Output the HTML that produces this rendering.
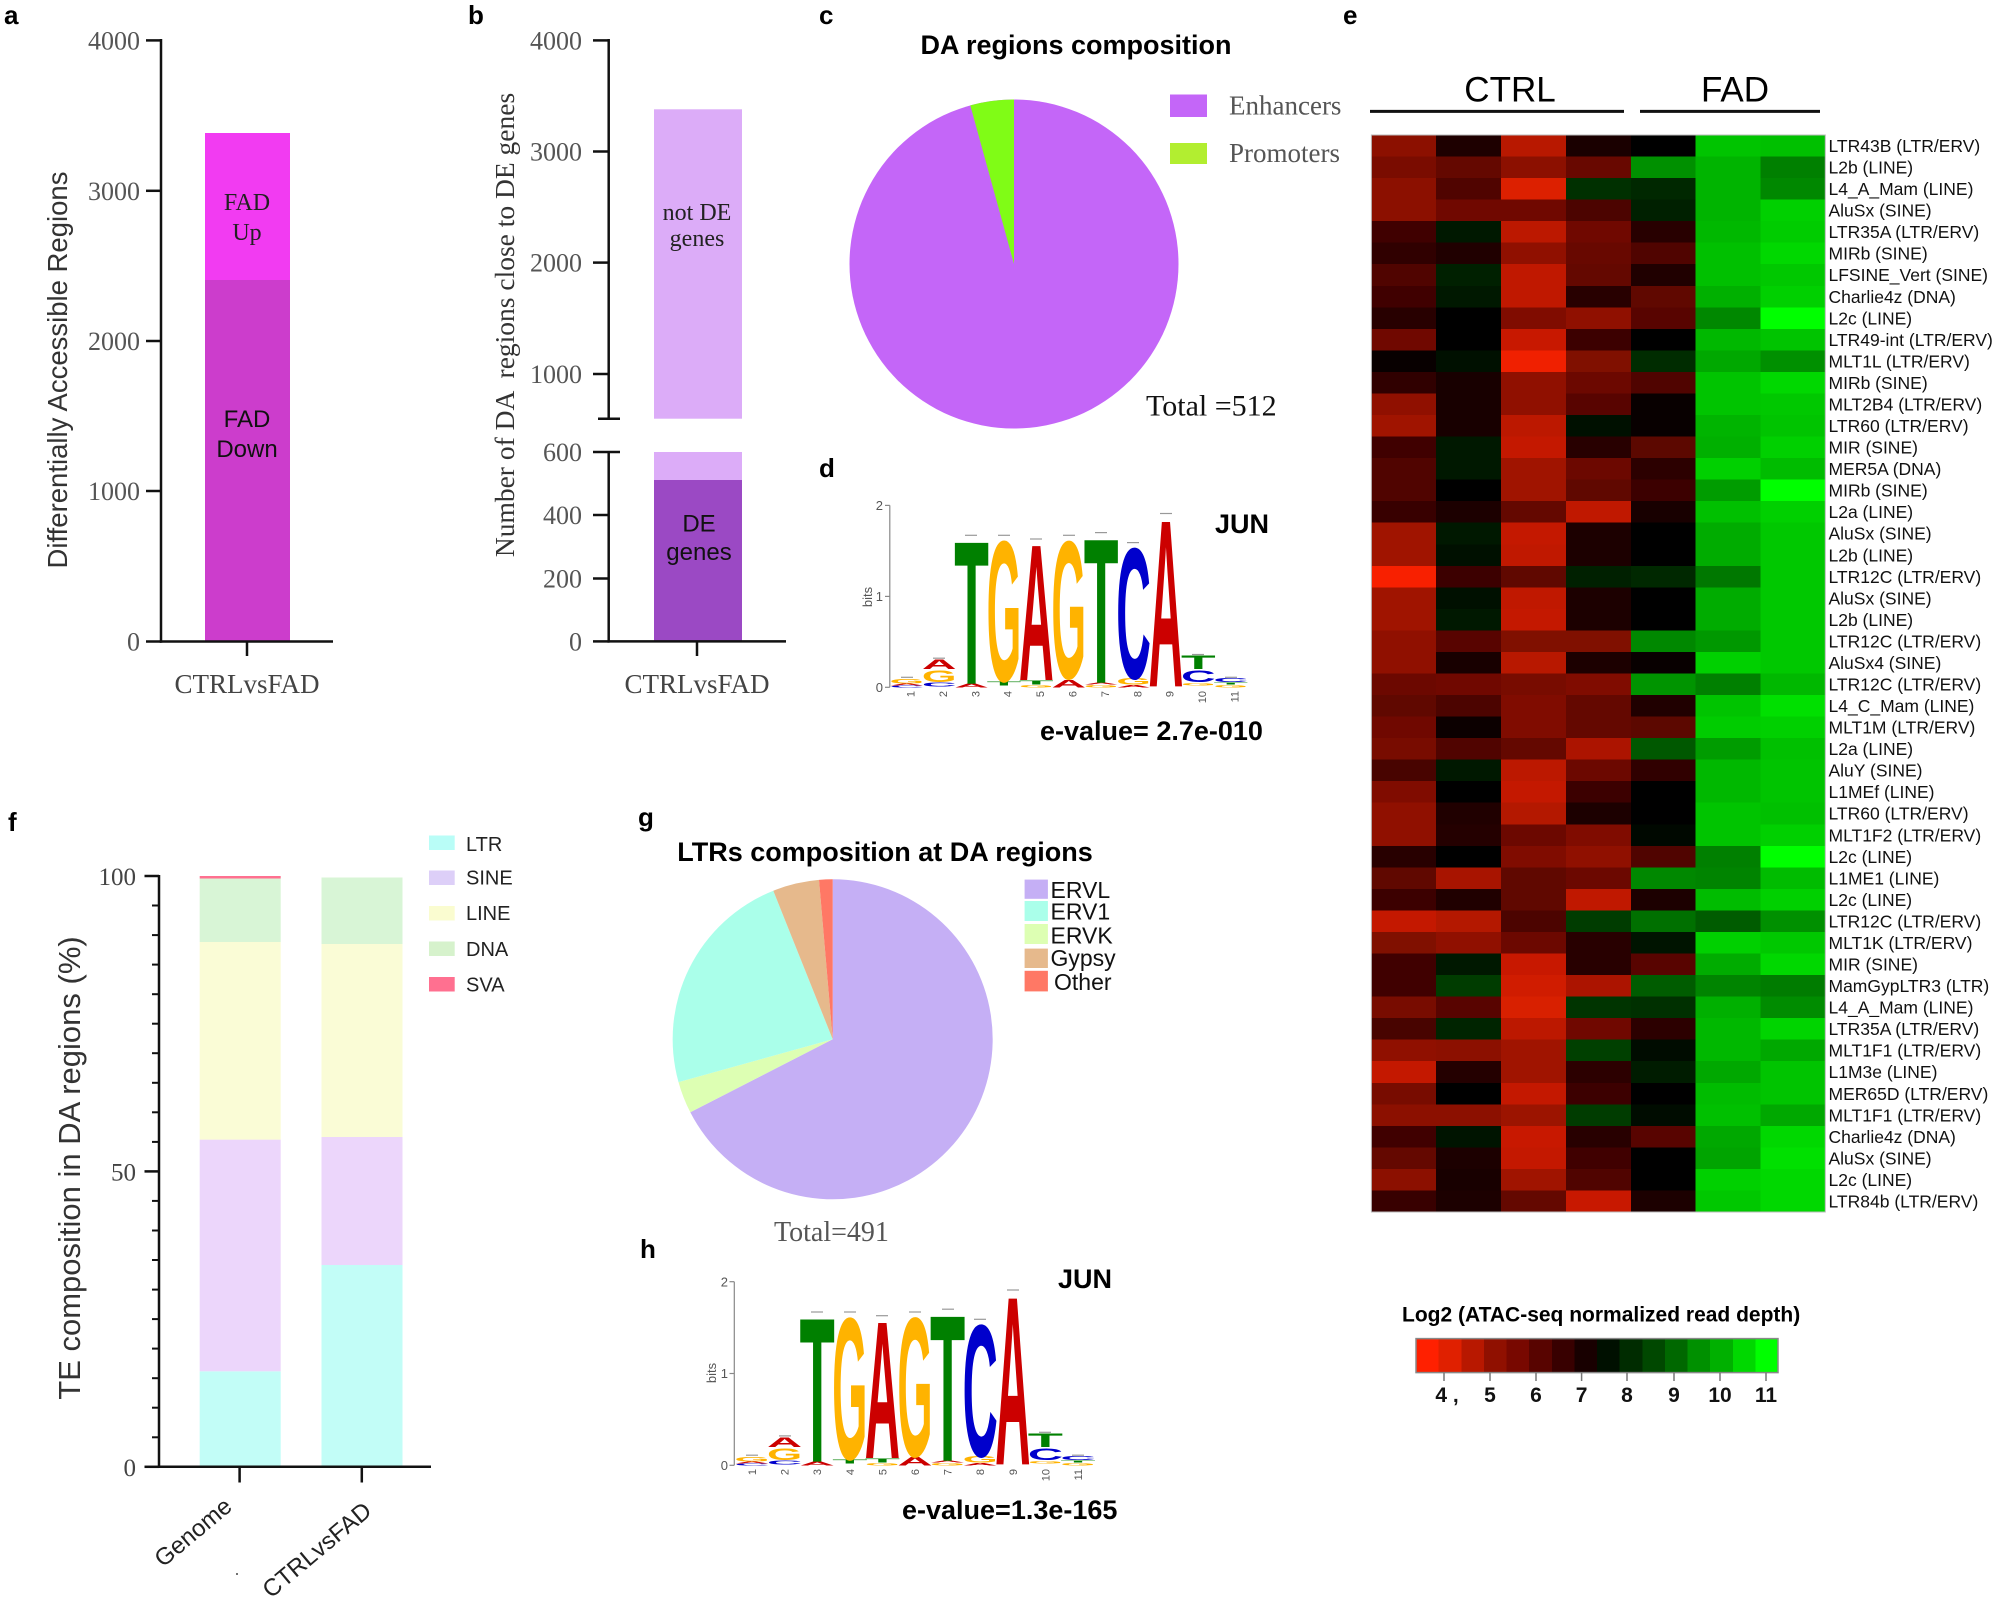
<!DOCTYPE html>
<html><head><meta charset="utf-8"><style>
html,body{margin:0;padding:0;background:#fff;}
svg{display:block;}
.s{font-family:"Liberation Sans",Arial,sans-serif;}
.r{font-family:"Liberation Serif","Times New Roman",serif;}
.b{font-family:"Liberation Sans",Arial,sans-serif;font-weight:bold;}
</style></head><body>
<svg width="2000" height="1602" viewBox="0 0 2000 1602" xmlns="http://www.w3.org/2000/svg">
<rect width="2000" height="1602" fill="#fff"/>

<!-- ===== Panel a ===== -->
<text class="b" x="4" y="24" font-size="26">a</text>
<rect x="205" y="133" width="85" height="148" fill="#f23bf2"/>
<rect x="205" y="280" width="85" height="361.5" fill="#cc3dcc"/>
<g stroke="#111" stroke-width="2.5" fill="none">
<line x1="161" y1="39" x2="161" y2="642.7"/>
<line x1="159.8" y1="641.5" x2="333" y2="641.5"/>
<line x1="146" y1="40.4" x2="161" y2="40.4"/>
<line x1="146" y1="190.8" x2="161" y2="190.8"/>
<line x1="146" y1="341" x2="161" y2="341"/>
<line x1="146" y1="491" x2="161" y2="491"/>
<line x1="146" y1="641.5" x2="161" y2="641.5"/>
<line x1="247" y1="641.5" x2="247" y2="656"/>
</g>
<g class="r" font-size="26" fill="#555" text-anchor="end">
<text x="140" y="49.5">4000</text><text x="140" y="200">3000</text><text x="140" y="350">2000</text><text x="140" y="500">1000</text><text x="140" y="650.5">0</text>
</g>
<text class="r" x="247" y="210" font-size="24" fill="#222" text-anchor="middle">FAD</text>
<text class="r" x="247" y="240" font-size="24" fill="#222" text-anchor="middle">Up</text>
<text class="s" x="247" y="427" font-size="24" fill="#111" text-anchor="middle">FAD</text>
<text class="s" x="247" y="457" font-size="24" fill="#111" text-anchor="middle">Down</text>
<text class="s" font-size="27.5" fill="#333" text-anchor="middle" transform="translate(67,370) rotate(-90)">Differentially Accessible Regions</text>
<text class="r" x="247" y="693" font-size="27" fill="#444" text-anchor="middle">CTRLvsFAD</text>

<!-- ===== Panel b ===== -->
<text class="b" x="468" y="24" font-size="26">b</text>
<rect x="654" y="109.3" width="88" height="309.4" fill="#dcacf8"/>
<rect x="654" y="452" width="88" height="28" fill="#dcacf8"/>
<rect x="654" y="480" width="88" height="161.4" fill="#9b49c4"/>
<g stroke="#111" stroke-width="2.5" fill="none">
<line x1="608.7" y1="39" x2="608.7" y2="418.7"/>
<line x1="608.7" y1="452" x2="608.7" y2="642.6"/>
<line x1="607.5" y1="641.4" x2="786" y2="641.4"/>
<line x1="593" y1="40.4" x2="608.7" y2="40.4"/>
<line x1="593" y1="151.5" x2="608.7" y2="151.5"/>
<line x1="593" y1="262.6" x2="608.7" y2="262.6"/>
<line x1="593" y1="374" x2="608.7" y2="374"/>
<line x1="598" y1="418.7" x2="620" y2="418.7"/>
<line x1="593" y1="452" x2="620" y2="452"/>
<line x1="593" y1="515" x2="608.7" y2="515"/>
<line x1="593" y1="578.5" x2="608.7" y2="578.5"/>
<line x1="593" y1="641.4" x2="608.7" y2="641.4"/>
<line x1="697" y1="641.4" x2="697" y2="656"/>
</g>
<g class="r" font-size="26" fill="#555" text-anchor="end">
<text x="582" y="49.5">4000</text><text x="582" y="160.5">3000</text><text x="582" y="271.6">2000</text><text x="582" y="383">1000</text>
<text x="582" y="461">600</text><text x="582" y="524">400</text><text x="582" y="587.5">200</text><text x="582" y="650.4">0</text>
</g>
<text class="r" x="697" y="220" font-size="24" fill="#222" text-anchor="middle">not DE</text>
<text class="r" x="697" y="246" font-size="24" fill="#222" text-anchor="middle">genes</text>
<text class="s" x="699" y="531.5" font-size="24" fill="#111" text-anchor="middle">DE</text>
<text class="s" x="699" y="560" font-size="24" fill="#111" text-anchor="middle">genes</text>
<text class="r" font-size="27.5" fill="#333" text-anchor="middle" transform="translate(514,325) rotate(-90)" xml:space="preserve">Number of DA  regions close to DE genes</text>
<text class="r" x="697" y="693" font-size="27" fill="#444" text-anchor="middle">CTRLvsFAD</text>

<!-- ===== Panel c ===== -->
<text class="b" x="819" y="24" font-size="26">c</text>
<text class="b" x="1076" y="54" font-size="27" text-anchor="middle">DA regions composition</text>
<circle cx="1014" cy="264" r="164.5" fill="#c466f8"/>
<path d="M1014,264 L970.3,105.4 A164.5,164.5 0 0 1 1014,99.5 Z" fill="#80fc16"/>
<rect x="1170" y="94.5" width="37" height="22.5" fill="#c466f8"/>
<text class="r" x="1229" y="114.5" font-size="27" fill="#555">Enhancers</text>
<rect x="1170" y="143" width="37" height="21" fill="#b2ee30"/>
<text class="r" x="1229" y="162" font-size="27" fill="#555">Promoters</text>
<text class="r" x="1146" y="415.5" font-size="30" fill="#111">Total =512</text>

<!-- ===== Panel d ===== -->
<text class="b" x="819" y="477" font-size="26">d</text>
<g stroke="#888" stroke-width="1.2">
<line x1="889.8" y1="505.4" x2="889.8" y2="687.3"/>
<line x1="885" y1="505.4" x2="889.8" y2="505.4"/>
<line x1="885" y1="596.4" x2="889.8" y2="596.4"/>
<line x1="885" y1="687.3" x2="889.8" y2="687.3"/>
</g>
<g class="s" font-size="13" fill="#555" text-anchor="end">
<text x="883" y="510">2</text><text x="883" y="601">1</text><text x="883" y="692">0</text>
</g>
<text class="s" font-size="13" fill="#555" text-anchor="middle" transform="translate(872,597) rotate(-90)">bits</text>
<g class="b" font-size="100">
<text x="-5" textLength="110" lengthAdjust="spacingAndGlyphs" fill="#0000cc" transform="translate(891,687.3) scale(0.315,0.025)">C</text>
<text x="-5" textLength="110" lengthAdjust="spacingAndGlyphs" fill="#cc0000" transform="translate(891,685.5) scale(0.315,0.025)">A</text>
<text x="-5" textLength="110" lengthAdjust="spacingAndGlyphs" fill="#ffb300" transform="translate(891,683.7) scale(0.315,0.063)">G</text>
<text x="-5" textLength="110" lengthAdjust="spacingAndGlyphs" fill="#0000cc" transform="translate(923.4,686.4) scale(0.315,0.05)">C</text>
<text x="-5" textLength="110" lengthAdjust="spacingAndGlyphs" fill="#ffb300" transform="translate(923.4,681.8) scale(0.315,0.164)">G</text>
<text x="-5" textLength="110" lengthAdjust="spacingAndGlyphs" fill="#cc0000" transform="translate(923.4,669.1) scale(0.315,0.139)">A</text>
<text x="-5" textLength="110" lengthAdjust="spacingAndGlyphs" fill="#cc0000" transform="translate(955.8,687.3) scale(0.315,0.05)">A</text>
<text x="-5" textLength="110" lengthAdjust="spacingAndGlyphs" fill="#008000" transform="translate(955.8,683.7) scale(0.315,2.047)">T</text>
<text x="-5" textLength="110" lengthAdjust="spacingAndGlyphs" fill="#008000" transform="translate(988.2,685.5) scale(0.315,0.05)">T</text>
<text x="-5" textLength="110" lengthAdjust="spacingAndGlyphs" fill="#ffb300" transform="translate(988.2,680.9) scale(0.315,2.01)">G</text>
<text x="-5" textLength="110" lengthAdjust="spacingAndGlyphs" fill="#ffb300" transform="translate(1020.6,687.3) scale(0.315,0.037)">G</text>
<text x="-5" textLength="110" lengthAdjust="spacingAndGlyphs" fill="#008000" transform="translate(1020.6,684.6) scale(0.315,0.05)">T</text>
<text x="-5" textLength="110" lengthAdjust="spacingAndGlyphs" fill="#cc0000" transform="translate(1020.6,680) scale(0.315,1.946)">A</text>
<text x="-5" textLength="110" lengthAdjust="spacingAndGlyphs" fill="#cc0000" transform="translate(1053,687.3) scale(0.315,0.114)">A</text>
<text x="-5" textLength="110" lengthAdjust="spacingAndGlyphs" fill="#ffb300" transform="translate(1053,678.2) scale(0.315,1.97)">G</text>
<text x="-5" textLength="110" lengthAdjust="spacingAndGlyphs" fill="#ffb300" transform="translate(1085.4,687.3) scale(0.315,0.037)">G</text>
<text x="-5" textLength="110" lengthAdjust="spacingAndGlyphs" fill="#cc0000" transform="translate(1085.4,684.6) scale(0.315,0.025)">A</text>
<text x="-5" textLength="110" lengthAdjust="spacingAndGlyphs" fill="#008000" transform="translate(1085.4,682.75) scale(0.315,2.072)">T</text>
<text x="-5" textLength="110" lengthAdjust="spacingAndGlyphs" fill="#cc0000" transform="translate(1117.8,687.3) scale(0.315,0.037)">A</text>
<text x="-5" textLength="110" lengthAdjust="spacingAndGlyphs" fill="#ffb300" transform="translate(1117.8,684.6) scale(0.315,0.089)">G</text>
<text x="-5" textLength="110" lengthAdjust="spacingAndGlyphs" fill="#0000cc" transform="translate(1117.8,678.2) scale(0.315,1.87)">C</text>
<text x="-5" textLength="110" lengthAdjust="spacingAndGlyphs" fill="#cc0000" transform="translate(1150.2,686.4) scale(0.315,2.39)">A</text>
<text x="-5" textLength="110" lengthAdjust="spacingAndGlyphs" fill="#ffb300" transform="translate(1182.6,685.5) scale(0.315,0.037)">G</text>
<text x="-5" textLength="110" lengthAdjust="spacingAndGlyphs" fill="#0000cc" transform="translate(1182.6,681.8) scale(0.315,0.164)">C</text>
<text x="-5" textLength="110" lengthAdjust="spacingAndGlyphs" fill="#008000" transform="translate(1182.6,669.1) scale(0.315,0.19)">T</text>
<text x="-5" textLength="110" lengthAdjust="spacingAndGlyphs" fill="#ffb300" transform="translate(1215,687.3) scale(0.315,0.037)">G</text>
<text x="-5" textLength="110" lengthAdjust="spacingAndGlyphs" fill="#008000" transform="translate(1215,684.6) scale(0.315,0.025)">T</text>
<text x="-5" textLength="110" lengthAdjust="spacingAndGlyphs" fill="#0000cc" transform="translate(1215,681.8) scale(0.315,0.05)">C</text>
</g>
<g stroke="#999" stroke-width="1.2">
<line x1="901" y1="677.3" x2="913" y2="677.3"/><line x1="933" y1="658.2" x2="945" y2="658.2"/>
<line x1="965" y1="535.3" x2="977" y2="535.3"/><line x1="998" y1="535.3" x2="1010" y2="535.3"/>
<line x1="1030" y1="539" x2="1042" y2="539"/><line x1="1063" y1="535.3" x2="1075" y2="535.3"/>
<line x1="1095" y1="532.6" x2="1107" y2="532.6"/><line x1="1127" y1="542.6" x2="1139" y2="542.6"/>
<line x1="1160" y1="513.5" x2="1172" y2="513.5"/><line x1="1192" y1="654.5" x2="1204" y2="654.5"/>
<line x1="1225" y1="677.3" x2="1237" y2="677.3"/>
</g>
<g class="s" font-size="11" fill="#555" text-anchor="end">
<text transform="translate(910.5,691) rotate(-90)" dy="4">1</text>
<text transform="translate(942.9,691) rotate(-90)" dy="4">2</text>
<text transform="translate(975.3,691) rotate(-90)" dy="4">3</text>
<text transform="translate(1007.7,691) rotate(-90)" dy="4">4</text>
<text transform="translate(1040.1,691) rotate(-90)" dy="4">5</text>
<text transform="translate(1072.5,691) rotate(-90)" dy="4">6</text>
<text transform="translate(1104.9,691) rotate(-90)" dy="4">7</text>
<text transform="translate(1137.3,691) rotate(-90)" dy="4">8</text>
<text transform="translate(1169.7,691) rotate(-90)" dy="4">9</text>
<text transform="translate(1202.1,691) rotate(-90)" dy="4">10</text>
<text transform="translate(1234.5,691) rotate(-90)" dy="4">11</text>
</g>
<text class="b" x="1215" y="533" font-size="27">JUN</text>
<text class="b" x="1040" y="740" font-size="27">e-value= 2.7e-010</text>

<!-- ===== Panel e ===== -->
<text class="b" x="1343" y="24" font-size="26">e</text>
<text class="s" x="1510" y="101.5" font-size="35" text-anchor="middle">CTRL</text>
<text class="s" x="1735" y="101.5" font-size="35" text-anchor="middle">FAD</text>
<line x1="1370" y1="111.4" x2="1624" y2="111.4" stroke="#111" stroke-width="3"/>
<line x1="1640" y1="111.4" x2="1820" y2="111.4" stroke="#111" stroke-width="3"/>
<g shape-rendering="crispEdges">
<g transform="translate(0,135)"><rect x="1371.4" width="65.3" height="22" fill="#8c1000"/><rect x="1436.2" width="65.3" height="22" fill="#1e0000"/><rect x="1501.1" width="65.3" height="22" fill="#b81800"/><rect x="1565.9" width="65.3" height="22" fill="#1a0000"/><rect x="1630.8" width="65.3" height="22" fill="#000000"/><rect x="1695.6" width="65.3" height="22" fill="#00c400"/><rect x="1760.4" width="64.9" height="22" fill="#00c000"/></g>
<g transform="translate(0,156.54)"><rect x="1371.4" width="65.3" height="22" fill="#7a0c00"/><rect x="1436.2" width="65.3" height="22" fill="#640800"/><rect x="1501.1" width="65.3" height="22" fill="#8c1000"/><rect x="1565.9" width="65.3" height="22" fill="#680800"/><rect x="1630.8" width="65.3" height="22" fill="#009000"/><rect x="1695.6" width="65.3" height="22" fill="#00b400"/><rect x="1760.4" width="64.9" height="22" fill="#008000"/></g>
<g transform="translate(0,178.08)"><rect x="1371.4" width="65.3" height="22" fill="#8c1000"/><rect x="1436.2" width="65.3" height="22" fill="#500400"/><rect x="1501.1" width="65.3" height="22" fill="#dc2000"/><rect x="1565.9" width="65.3" height="22" fill="#003000"/><rect x="1630.8" width="65.3" height="22" fill="#002800"/><rect x="1695.6" width="65.3" height="22" fill="#00b400"/><rect x="1760.4" width="64.9" height="22" fill="#008800"/></g>
<g transform="translate(0,199.62)"><rect x="1371.4" width="65.3" height="22" fill="#8c1000"/><rect x="1436.2" width="65.3" height="22" fill="#700800"/><rect x="1501.1" width="65.3" height="22" fill="#700800"/><rect x="1565.9" width="65.3" height="22" fill="#4c0400"/><rect x="1630.8" width="65.3" height="22" fill="#002000"/><rect x="1695.6" width="65.3" height="22" fill="#00b400"/><rect x="1760.4" width="64.9" height="22" fill="#00d000"/></g>
<g transform="translate(0,221.16)"><rect x="1371.4" width="65.3" height="22" fill="#400000"/><rect x="1436.2" width="65.3" height="22" fill="#001800"/><rect x="1501.1" width="65.3" height="22" fill="#bc1800"/><rect x="1565.9" width="65.3" height="22" fill="#700800"/><rect x="1630.8" width="65.3" height="22" fill="#280000"/><rect x="1695.6" width="65.3" height="22" fill="#00b800"/><rect x="1760.4" width="64.9" height="22" fill="#00cc00"/></g>
<g transform="translate(0,242.7)"><rect x="1371.4" width="65.3" height="22" fill="#300000"/><rect x="1436.2" width="65.3" height="22" fill="#200000"/><rect x="1501.1" width="65.3" height="22" fill="#901000"/><rect x="1565.9" width="65.3" height="22" fill="#680800"/><rect x="1630.8" width="65.3" height="22" fill="#500400"/><rect x="1695.6" width="65.3" height="22" fill="#00c000"/><rect x="1760.4" width="64.9" height="22" fill="#00d800"/></g>
<g transform="translate(0,264.24)"><rect x="1371.4" width="65.3" height="22" fill="#500400"/><rect x="1436.2" width="65.3" height="22" fill="#002000"/><rect x="1501.1" width="65.3" height="22" fill="#c01800"/><rect x="1565.9" width="65.3" height="22" fill="#640800"/><rect x="1630.8" width="65.3" height="22" fill="#200000"/><rect x="1695.6" width="65.3" height="22" fill="#00c000"/><rect x="1760.4" width="64.9" height="22" fill="#00c800"/></g>
<g transform="translate(0,285.78)"><rect x="1371.4" width="65.3" height="22" fill="#400000"/><rect x="1436.2" width="65.3" height="22" fill="#001800"/><rect x="1501.1" width="65.3" height="22" fill="#c01800"/><rect x="1565.9" width="65.3" height="22" fill="#280000"/><rect x="1630.8" width="65.3" height="22" fill="#600800"/><rect x="1695.6" width="65.3" height="22" fill="#00b000"/><rect x="1760.4" width="64.9" height="22" fill="#00d000"/></g>
<g transform="translate(0,307.32)"><rect x="1371.4" width="65.3" height="22" fill="#280000"/><rect x="1436.2" width="65.3" height="22" fill="#000000"/><rect x="1501.1" width="65.3" height="22" fill="#800c00"/><rect x="1565.9" width="65.3" height="22" fill="#901000"/><rect x="1630.8" width="65.3" height="22" fill="#580400"/><rect x="1695.6" width="65.3" height="22" fill="#008800"/><rect x="1760.4" width="64.9" height="22" fill="#00ff00"/></g>
<g transform="translate(0,328.86)"><rect x="1371.4" width="65.3" height="22" fill="#700800"/><rect x="1436.2" width="65.3" height="22" fill="#000000"/><rect x="1501.1" width="65.3" height="22" fill="#c81800"/><rect x="1565.9" width="65.3" height="22" fill="#3c0000"/><rect x="1630.8" width="65.3" height="22" fill="#000000"/><rect x="1695.6" width="65.3" height="22" fill="#00b800"/><rect x="1760.4" width="64.9" height="22" fill="#00c400"/></g>
<g transform="translate(0,350.4)"><rect x="1371.4" width="65.3" height="22" fill="#080000"/><rect x="1436.2" width="65.3" height="22" fill="#001000"/><rect x="1501.1" width="65.3" height="22" fill="#f02000"/><rect x="1565.9" width="65.3" height="22" fill="#801000"/><rect x="1630.8" width="65.3" height="22" fill="#002c00"/><rect x="1695.6" width="65.3" height="22" fill="#00a800"/><rect x="1760.4" width="64.9" height="22" fill="#009000"/></g>
<g transform="translate(0,371.94)"><rect x="1371.4" width="65.3" height="22" fill="#300000"/><rect x="1436.2" width="65.3" height="22" fill="#180000"/><rect x="1501.1" width="65.3" height="22" fill="#901000"/><rect x="1565.9" width="65.3" height="22" fill="#6c0800"/><rect x="1630.8" width="65.3" height="22" fill="#500400"/><rect x="1695.6" width="65.3" height="22" fill="#00c400"/><rect x="1760.4" width="64.9" height="22" fill="#00d800"/></g>
<g transform="translate(0,393.48)"><rect x="1371.4" width="65.3" height="22" fill="#901000"/><rect x="1436.2" width="65.3" height="22" fill="#180000"/><rect x="1501.1" width="65.3" height="22" fill="#901000"/><rect x="1565.9" width="65.3" height="22" fill="#580400"/><rect x="1630.8" width="65.3" height="22" fill="#080000"/><rect x="1695.6" width="65.3" height="22" fill="#00c400"/><rect x="1760.4" width="64.9" height="22" fill="#00c800"/></g>
<g transform="translate(0,415.02)"><rect x="1371.4" width="65.3" height="22" fill="#a01400"/><rect x="1436.2" width="65.3" height="22" fill="#180000"/><rect x="1501.1" width="65.3" height="22" fill="#bc1800"/><rect x="1565.9" width="65.3" height="22" fill="#001000"/><rect x="1630.8" width="65.3" height="22" fill="#080000"/><rect x="1695.6" width="65.3" height="22" fill="#00b400"/><rect x="1760.4" width="64.9" height="22" fill="#00c400"/></g>
<g transform="translate(0,436.56)"><rect x="1371.4" width="65.3" height="22" fill="#400000"/><rect x="1436.2" width="65.3" height="22" fill="#001800"/><rect x="1501.1" width="65.3" height="22" fill="#c41800"/><rect x="1565.9" width="65.3" height="22" fill="#280000"/><rect x="1630.8" width="65.3" height="22" fill="#5c0800"/><rect x="1695.6" width="65.3" height="22" fill="#00b000"/><rect x="1760.4" width="64.9" height="22" fill="#00d000"/></g>
<g transform="translate(0,458.1)"><rect x="1371.4" width="65.3" height="22" fill="#500400"/><rect x="1436.2" width="65.3" height="22" fill="#001800"/><rect x="1501.1" width="65.3" height="22" fill="#a01400"/><rect x="1565.9" width="65.3" height="22" fill="#6c0800"/><rect x="1630.8" width="65.3" height="22" fill="#2c0000"/><rect x="1695.6" width="65.3" height="22" fill="#00d000"/><rect x="1760.4" width="64.9" height="22" fill="#00bc00"/></g>
<g transform="translate(0,479.64)"><rect x="1371.4" width="65.3" height="22" fill="#500400"/><rect x="1436.2" width="65.3" height="22" fill="#000000"/><rect x="1501.1" width="65.3" height="22" fill="#a01400"/><rect x="1565.9" width="65.3" height="22" fill="#600800"/><rect x="1630.8" width="65.3" height="22" fill="#3c0000"/><rect x="1695.6" width="65.3" height="22" fill="#009c00"/><rect x="1760.4" width="64.9" height="22" fill="#00ff00"/></g>
<g transform="translate(0,501.18)"><rect x="1371.4" width="65.3" height="22" fill="#380000"/><rect x="1436.2" width="65.3" height="22" fill="#1c0000"/><rect x="1501.1" width="65.3" height="22" fill="#640800"/><rect x="1565.9" width="65.3" height="22" fill="#c01800"/><rect x="1630.8" width="65.3" height="22" fill="#180000"/><rect x="1695.6" width="65.3" height="22" fill="#00c000"/><rect x="1760.4" width="64.9" height="22" fill="#00d000"/></g>
<g transform="translate(0,522.72)"><rect x="1371.4" width="65.3" height="22" fill="#a01400"/><rect x="1436.2" width="65.3" height="22" fill="#001800"/><rect x="1501.1" width="65.3" height="22" fill="#c41800"/><rect x="1565.9" width="65.3" height="22" fill="#1c0000"/><rect x="1630.8" width="65.3" height="22" fill="#000000"/><rect x="1695.6" width="65.3" height="22" fill="#00ac00"/><rect x="1760.4" width="64.9" height="22" fill="#00c800"/></g>
<g transform="translate(0,544.26)"><rect x="1371.4" width="65.3" height="22" fill="#a01400"/><rect x="1436.2" width="65.3" height="22" fill="#001000"/><rect x="1501.1" width="65.3" height="22" fill="#c01800"/><rect x="1565.9" width="65.3" height="22" fill="#1c0000"/><rect x="1630.8" width="65.3" height="22" fill="#000000"/><rect x="1695.6" width="65.3" height="22" fill="#00ac00"/><rect x="1760.4" width="64.9" height="22" fill="#00c800"/></g>
<g transform="translate(0,565.8)"><rect x="1371.4" width="65.3" height="22" fill="#f82000"/><rect x="1436.2" width="65.3" height="22" fill="#3c0000"/><rect x="1501.1" width="65.3" height="22" fill="#600800"/><rect x="1565.9" width="65.3" height="22" fill="#002000"/><rect x="1630.8" width="65.3" height="22" fill="#002800"/><rect x="1695.6" width="65.3" height="22" fill="#007800"/><rect x="1760.4" width="64.9" height="22" fill="#00c800"/></g>
<g transform="translate(0,587.34)"><rect x="1371.4" width="65.3" height="22" fill="#a01400"/><rect x="1436.2" width="65.3" height="22" fill="#001000"/><rect x="1501.1" width="65.3" height="22" fill="#c01800"/><rect x="1565.9" width="65.3" height="22" fill="#1c0000"/><rect x="1630.8" width="65.3" height="22" fill="#000000"/><rect x="1695.6" width="65.3" height="22" fill="#00ac00"/><rect x="1760.4" width="64.9" height="22" fill="#00c800"/></g>
<g transform="translate(0,608.88)"><rect x="1371.4" width="65.3" height="22" fill="#a01400"/><rect x="1436.2" width="65.3" height="22" fill="#001800"/><rect x="1501.1" width="65.3" height="22" fill="#c41800"/><rect x="1565.9" width="65.3" height="22" fill="#1c0000"/><rect x="1630.8" width="65.3" height="22" fill="#000000"/><rect x="1695.6" width="65.3" height="22" fill="#00ac00"/><rect x="1760.4" width="64.9" height="22" fill="#00c800"/></g>
<g transform="translate(0,630.42)"><rect x="1371.4" width="65.3" height="22" fill="#901000"/><rect x="1436.2" width="65.3" height="22" fill="#580400"/><rect x="1501.1" width="65.3" height="22" fill="#801000"/><rect x="1565.9" width="65.3" height="22" fill="#801000"/><rect x="1630.8" width="65.3" height="22" fill="#008800"/><rect x="1695.6" width="65.3" height="22" fill="#009800"/><rect x="1760.4" width="64.9" height="22" fill="#00c800"/></g>
<g transform="translate(0,651.96)"><rect x="1371.4" width="65.3" height="22" fill="#901000"/><rect x="1436.2" width="65.3" height="22" fill="#180000"/><rect x="1501.1" width="65.3" height="22" fill="#b81800"/><rect x="1565.9" width="65.3" height="22" fill="#1c0000"/><rect x="1630.8" width="65.3" height="22" fill="#080000"/><rect x="1695.6" width="65.3" height="22" fill="#00d000"/><rect x="1760.4" width="64.9" height="22" fill="#00c800"/></g>
<g transform="translate(0,673.5)"><rect x="1371.4" width="65.3" height="22" fill="#6c0800"/><rect x="1436.2" width="65.3" height="22" fill="#700800"/><rect x="1501.1" width="65.3" height="22" fill="#780c00"/><rect x="1565.9" width="65.3" height="22" fill="#800c00"/><rect x="1630.8" width="65.3" height="22" fill="#009400"/><rect x="1695.6" width="65.3" height="22" fill="#008000"/><rect x="1760.4" width="64.9" height="22" fill="#00b800"/></g>
<g transform="translate(0,695.04)"><rect x="1371.4" width="65.3" height="22" fill="#600800"/><rect x="1436.2" width="65.3" height="22" fill="#4c0400"/><rect x="1501.1" width="65.3" height="22" fill="#800c00"/><rect x="1565.9" width="65.3" height="22" fill="#640800"/><rect x="1630.8" width="65.3" height="22" fill="#200000"/><rect x="1695.6" width="65.3" height="22" fill="#00c400"/><rect x="1760.4" width="64.9" height="22" fill="#00e000"/></g>
<g transform="translate(0,716.58)"><rect x="1371.4" width="65.3" height="22" fill="#700800"/><rect x="1436.2" width="65.3" height="22" fill="#0c0000"/><rect x="1501.1" width="65.3" height="22" fill="#800c00"/><rect x="1565.9" width="65.3" height="22" fill="#640800"/><rect x="1630.8" width="65.3" height="22" fill="#5c0800"/><rect x="1695.6" width="65.3" height="22" fill="#00cc00"/><rect x="1760.4" width="64.9" height="22" fill="#00d000"/></g>
<g transform="translate(0,738.12)"><rect x="1371.4" width="65.3" height="22" fill="#780c00"/><rect x="1436.2" width="65.3" height="22" fill="#500400"/><rect x="1501.1" width="65.3" height="22" fill="#640800"/><rect x="1565.9" width="65.3" height="22" fill="#ac1400"/><rect x="1630.8" width="65.3" height="22" fill="#005800"/><rect x="1695.6" width="65.3" height="22" fill="#009c00"/><rect x="1760.4" width="64.9" height="22" fill="#00c000"/></g>
<g transform="translate(0,759.66)"><rect x="1371.4" width="65.3" height="22" fill="#480400"/><rect x="1436.2" width="65.3" height="22" fill="#001800"/><rect x="1501.1" width="65.3" height="22" fill="#bc1800"/><rect x="1565.9" width="65.3" height="22" fill="#6c0800"/><rect x="1630.8" width="65.3" height="22" fill="#300000"/><rect x="1695.6" width="65.3" height="22" fill="#00b800"/><rect x="1760.4" width="64.9" height="22" fill="#00c400"/></g>
<g transform="translate(0,781.2)"><rect x="1371.4" width="65.3" height="22" fill="#800c00"/><rect x="1436.2" width="65.3" height="22" fill="#000000"/><rect x="1501.1" width="65.3" height="22" fill="#c41800"/><rect x="1565.9" width="65.3" height="22" fill="#3c0000"/><rect x="1630.8" width="65.3" height="22" fill="#000000"/><rect x="1695.6" width="65.3" height="22" fill="#00b800"/><rect x="1760.4" width="64.9" height="22" fill="#00c400"/></g>
<g transform="translate(0,802.74)"><rect x="1371.4" width="65.3" height="22" fill="#901000"/><rect x="1436.2" width="65.3" height="22" fill="#200000"/><rect x="1501.1" width="65.3" height="22" fill="#b41800"/><rect x="1565.9" width="65.3" height="22" fill="#1c0000"/><rect x="1630.8" width="65.3" height="22" fill="#000000"/><rect x="1695.6" width="65.3" height="22" fill="#00c400"/><rect x="1760.4" width="64.9" height="22" fill="#00c000"/></g>
<g transform="translate(0,824.28)"><rect x="1371.4" width="65.3" height="22" fill="#901000"/><rect x="1436.2" width="65.3" height="22" fill="#240000"/><rect x="1501.1" width="65.3" height="22" fill="#6c0800"/><rect x="1565.9" width="65.3" height="22" fill="#800c00"/><rect x="1630.8" width="65.3" height="22" fill="#000800"/><rect x="1695.6" width="65.3" height="22" fill="#00c400"/><rect x="1760.4" width="64.9" height="22" fill="#00d000"/></g>
<g transform="translate(0,845.82)"><rect x="1371.4" width="65.3" height="22" fill="#280000"/><rect x="1436.2" width="65.3" height="22" fill="#000000"/><rect x="1501.1" width="65.3" height="22" fill="#800c00"/><rect x="1565.9" width="65.3" height="22" fill="#901000"/><rect x="1630.8" width="65.3" height="22" fill="#500400"/><rect x="1695.6" width="65.3" height="22" fill="#008000"/><rect x="1760.4" width="64.9" height="22" fill="#00ff00"/></g>
<g transform="translate(0,867.36)"><rect x="1371.4" width="65.3" height="22" fill="#600800"/><rect x="1436.2" width="65.3" height="22" fill="#a81400"/><rect x="1501.1" width="65.3" height="22" fill="#600800"/><rect x="1565.9" width="65.3" height="22" fill="#6c0800"/><rect x="1630.8" width="65.3" height="22" fill="#008800"/><rect x="1695.6" width="65.3" height="22" fill="#008400"/><rect x="1760.4" width="64.9" height="22" fill="#00bc00"/></g>
<g transform="translate(0,888.9)"><rect x="1371.4" width="65.3" height="22" fill="#3c0000"/><rect x="1436.2" width="65.3" height="22" fill="#200000"/><rect x="1501.1" width="65.3" height="22" fill="#600800"/><rect x="1565.9" width="65.3" height="22" fill="#c01800"/><rect x="1630.8" width="65.3" height="22" fill="#1c0000"/><rect x="1695.6" width="65.3" height="22" fill="#00bc00"/><rect x="1760.4" width="64.9" height="22" fill="#00d000"/></g>
<g transform="translate(0,910.44)"><rect x="1371.4" width="65.3" height="22" fill="#c41800"/><rect x="1436.2" width="65.3" height="22" fill="#b41800"/><rect x="1501.1" width="65.3" height="22" fill="#4c0400"/><rect x="1565.9" width="65.3" height="22" fill="#003c00"/><rect x="1630.8" width="65.3" height="22" fill="#007000"/><rect x="1695.6" width="65.3" height="22" fill="#005c00"/><rect x="1760.4" width="64.9" height="22" fill="#009000"/></g>
<g transform="translate(0,931.98)"><rect x="1371.4" width="65.3" height="22" fill="#801000"/><rect x="1436.2" width="65.3" height="22" fill="#901000"/><rect x="1501.1" width="65.3" height="22" fill="#6c0800"/><rect x="1565.9" width="65.3" height="22" fill="#280000"/><rect x="1630.8" width="65.3" height="22" fill="#001400"/><rect x="1695.6" width="65.3" height="22" fill="#00d000"/><rect x="1760.4" width="64.9" height="22" fill="#00c800"/></g>
<g transform="translate(0,953.52)"><rect x="1371.4" width="65.3" height="22" fill="#400000"/><rect x="1436.2" width="65.3" height="22" fill="#001800"/><rect x="1501.1" width="65.3" height="22" fill="#c81800"/><rect x="1565.9" width="65.3" height="22" fill="#280000"/><rect x="1630.8" width="65.3" height="22" fill="#580400"/><rect x="1695.6" width="65.3" height="22" fill="#00ac00"/><rect x="1760.4" width="64.9" height="22" fill="#00d800"/></g>
<g transform="translate(0,975.06)"><rect x="1371.4" width="65.3" height="22" fill="#400000"/><rect x="1436.2" width="65.3" height="22" fill="#003c00"/><rect x="1501.1" width="65.3" height="22" fill="#d01c00"/><rect x="1565.9" width="65.3" height="22" fill="#ac1400"/><rect x="1630.8" width="65.3" height="22" fill="#005c00"/><rect x="1695.6" width="65.3" height="22" fill="#008400"/><rect x="1760.4" width="64.9" height="22" fill="#007c00"/></g>
<g transform="translate(0,996.6)"><rect x="1371.4" width="65.3" height="22" fill="#780c00"/><rect x="1436.2" width="65.3" height="22" fill="#580400"/><rect x="1501.1" width="65.3" height="22" fill="#d82000"/><rect x="1565.9" width="65.3" height="22" fill="#003400"/><rect x="1630.8" width="65.3" height="22" fill="#003000"/><rect x="1695.6" width="65.3" height="22" fill="#00b000"/><rect x="1760.4" width="64.9" height="22" fill="#008c00"/></g>
<g transform="translate(0,1018.14)"><rect x="1371.4" width="65.3" height="22" fill="#480400"/><rect x="1436.2" width="65.3" height="22" fill="#002400"/><rect x="1501.1" width="65.3" height="22" fill="#bc1800"/><rect x="1565.9" width="65.3" height="22" fill="#700800"/><rect x="1630.8" width="65.3" height="22" fill="#2c0000"/><rect x="1695.6" width="65.3" height="22" fill="#00b800"/><rect x="1760.4" width="64.9" height="22" fill="#00d400"/></g>
<g transform="translate(0,1039.68)"><rect x="1371.4" width="65.3" height="22" fill="#901000"/><rect x="1436.2" width="65.3" height="22" fill="#8c1000"/><rect x="1501.1" width="65.3" height="22" fill="#a01400"/><rect x="1565.9" width="65.3" height="22" fill="#004000"/><rect x="1630.8" width="65.3" height="22" fill="#000c00"/><rect x="1695.6" width="65.3" height="22" fill="#00b800"/><rect x="1760.4" width="64.9" height="22" fill="#00a800"/></g>
<g transform="translate(0,1061.22)"><rect x="1371.4" width="65.3" height="22" fill="#c41800"/><rect x="1436.2" width="65.3" height="22" fill="#240000"/><rect x="1501.1" width="65.3" height="22" fill="#a01400"/><rect x="1565.9" width="65.3" height="22" fill="#2c0000"/><rect x="1630.8" width="65.3" height="22" fill="#001c00"/><rect x="1695.6" width="65.3" height="22" fill="#00a800"/><rect x="1760.4" width="64.9" height="22" fill="#00c400"/></g>
<g transform="translate(0,1082.76)"><rect x="1371.4" width="65.3" height="22" fill="#780c00"/><rect x="1436.2" width="65.3" height="22" fill="#000000"/><rect x="1501.1" width="65.3" height="22" fill="#c41800"/><rect x="1565.9" width="65.3" height="22" fill="#3c0000"/><rect x="1630.8" width="65.3" height="22" fill="#000000"/><rect x="1695.6" width="65.3" height="22" fill="#00bc00"/><rect x="1760.4" width="64.9" height="22" fill="#00c400"/></g>
<g transform="translate(0,1104.3)"><rect x="1371.4" width="65.3" height="22" fill="#8c1000"/><rect x="1436.2" width="65.3" height="22" fill="#8c1000"/><rect x="1501.1" width="65.3" height="22" fill="#9c1400"/><rect x="1565.9" width="65.3" height="22" fill="#003c00"/><rect x="1630.8" width="65.3" height="22" fill="#000c00"/><rect x="1695.6" width="65.3" height="22" fill="#00c000"/><rect x="1760.4" width="64.9" height="22" fill="#00a800"/></g>
<g transform="translate(0,1125.84)"><rect x="1371.4" width="65.3" height="22" fill="#400000"/><rect x="1436.2" width="65.3" height="22" fill="#001400"/><rect x="1501.1" width="65.3" height="22" fill="#c81800"/><rect x="1565.9" width="65.3" height="22" fill="#280000"/><rect x="1630.8" width="65.3" height="22" fill="#580400"/><rect x="1695.6" width="65.3" height="22" fill="#00a800"/><rect x="1760.4" width="64.9" height="22" fill="#00d800"/></g>
<g transform="translate(0,1147.38)"><rect x="1371.4" width="65.3" height="22" fill="#640800"/><rect x="1436.2" width="65.3" height="22" fill="#1c0000"/><rect x="1501.1" width="65.3" height="22" fill="#c41800"/><rect x="1565.9" width="65.3" height="22" fill="#400000"/><rect x="1630.8" width="65.3" height="22" fill="#000000"/><rect x="1695.6" width="65.3" height="22" fill="#00a400"/><rect x="1760.4" width="64.9" height="22" fill="#00e000"/></g>
<g transform="translate(0,1168.92)"><rect x="1371.4" width="65.3" height="22" fill="#8c1000"/><rect x="1436.2" width="65.3" height="22" fill="#180000"/><rect x="1501.1" width="65.3" height="22" fill="#a01400"/><rect x="1565.9" width="65.3" height="22" fill="#500400"/><rect x="1630.8" width="65.3" height="22" fill="#000000"/><rect x="1695.6" width="65.3" height="22" fill="#00d000"/><rect x="1760.4" width="64.9" height="22" fill="#00d800"/></g>
<g transform="translate(0,1190.46)"><rect x="1371.4" width="65.3" height="21.5" fill="#380000"/><rect x="1436.2" width="65.3" height="21.5" fill="#1c0000"/><rect x="1501.1" width="65.3" height="21.5" fill="#640800"/><rect x="1565.9" width="65.3" height="21.5" fill="#c81800"/><rect x="1630.8" width="65.3" height="21.5" fill="#1c0000"/><rect x="1695.6" width="65.3" height="21.5" fill="#00c800"/><rect x="1760.4" width="64.9" height="21.5" fill="#00d800"/></g>
</g>
<rect x="1371.4" y="135" width="453.9" height="1077" fill="none" stroke="#bbb" stroke-width="1"/>
<g class="s" font-size="17.5" fill="#111">
<text x="1828.5" y="152">LTR43B (LTR/ERV)</text>
<text x="1828.5" y="173.5">L2b (LINE)</text>
<text x="1828.5" y="195">L4_A_Mam (LINE)</text>
<text x="1828.5" y="216.6">AluSx (SINE)</text>
<text x="1828.5" y="238.2">LTR35A (LTR/ERV)</text>
<text x="1828.5" y="259.7">MIRb (SINE)</text>
<text x="1828.5" y="281.2">LFSINE_Vert (SINE)</text>
<text x="1828.5" y="302.8">Charlie4z (DNA)</text>
<text x="1828.5" y="324.3">L2c (LINE)</text>
<text x="1828.5" y="345.9">LTR49-int (LTR/ERV)</text>
<text x="1828.5" y="367.4">MLT1L (LTR/ERV)</text>
<text x="1828.5" y="388.9">MIRb (SINE)</text>
<text x="1828.5" y="410.5">MLT2B4 (LTR/ERV)</text>
<text x="1828.5" y="432">LTR60 (LTR/ERV)</text>
<text x="1828.5" y="453.6">MIR (SINE)</text>
<text x="1828.5" y="475.1">MER5A (DNA)</text>
<text x="1828.5" y="496.6">MIRb (SINE)</text>
<text x="1828.5" y="518.2">L2a (LINE)</text>
<text x="1828.5" y="539.7">AluSx (SINE)</text>
<text x="1828.5" y="561.3">L2b (LINE)</text>
<text x="1828.5" y="582.8">LTR12C (LTR/ERV)</text>
<text x="1828.5" y="604.3">AluSx (SINE)</text>
<text x="1828.5" y="625.9">L2b (LINE)</text>
<text x="1828.5" y="647.4">LTR12C (LTR/ERV)</text>
<text x="1828.5" y="669">AluSx4 (SINE)</text>
<text x="1828.5" y="690.5">LTR12C (LTR/ERV)</text>
<text x="1828.5" y="712">L4_C_Mam (LINE)</text>
<text x="1828.5" y="733.6">MLT1M (LTR/ERV)</text>
<text x="1828.5" y="755.1">L2a (LINE)</text>
<text x="1828.5" y="776.7">AluY (SINE)</text>
<text x="1828.5" y="798.2">L1MEf (LINE)</text>
<text x="1828.5" y="819.7">LTR60 (LTR/ERV)</text>
<text x="1828.5" y="841.3">MLT1F2 (LTR/ERV)</text>
<text x="1828.5" y="862.8">L2c (LINE)</text>
<text x="1828.5" y="884.4">L1ME1 (LINE)</text>
<text x="1828.5" y="905.9">L2c (LINE)</text>
<text x="1828.5" y="927.4">LTR12C (LTR/ERV)</text>
<text x="1828.5" y="949">MLT1K (LTR/ERV)</text>
<text x="1828.5" y="970.5">MIR (SINE)</text>
<text x="1828.5" y="992.1">MamGypLTR3 (LTR)</text>
<text x="1828.5" y="1013.6">L4_A_Mam (LINE)</text>
<text x="1828.5" y="1035.1">LTR35A (LTR/ERV)</text>
<text x="1828.5" y="1056.7">MLT1F1 (LTR/ERV)</text>
<text x="1828.5" y="1078.2">L1M3e (LINE)</text>
<text x="1828.5" y="1099.8">MER65D (LTR/ERV)</text>
<text x="1828.5" y="1121.3">MLT1F1 (LTR/ERV)</text>
<text x="1828.5" y="1142.8">Charlie4z (DNA)</text>
<text x="1828.5" y="1164.4">AluSx (SINE)</text>
<text x="1828.5" y="1185.9">L2c (LINE)</text>
<text x="1828.5" y="1207.5">LTR84b (LTR/ERV)</text>
</g>
<!-- colorbar -->
<text class="b" x="1402" y="1321.5" font-size="21">Log2 (ATAC-seq normalized read depth)</text>
<g shape-rendering="crispEdges">
<rect x="1416" y="1338.6" width="23" height="34" fill="#ff2000"/>
<rect x="1438.6" y="1338.6" width="23" height="34" fill="#e02000"/>
<rect x="1461.3" y="1338.6" width="23" height="34" fill="#b81800"/>
<rect x="1483.9" y="1338.6" width="23" height="34" fill="#901000"/>
<rect x="1506.5" y="1338.6" width="23" height="34" fill="#780800"/>
<rect x="1529.1" y="1338.6" width="23" height="34" fill="#580400"/>
<rect x="1551.8" y="1338.6" width="23" height="34" fill="#380000"/>
<rect x="1574.4" y="1338.6" width="23" height="34" fill="#180000"/>
<rect x="1597" y="1338.6" width="23" height="34" fill="#001000"/>
<rect x="1619.6" y="1338.6" width="23" height="34" fill="#002c00"/>
<rect x="1642.3" y="1338.6" width="23" height="34" fill="#004800"/>
<rect x="1664.9" y="1338.6" width="23" height="34" fill="#006800"/>
<rect x="1687.5" y="1338.6" width="23" height="34" fill="#009000"/>
<rect x="1710.1" y="1338.6" width="23" height="34" fill="#00b000"/>
<rect x="1732.8" y="1338.6" width="23" height="34" fill="#00d800"/>
<rect x="1755.4" y="1338.6" width="22.6" height="34" fill="#00ff00"/>
</g>
<rect x="1416" y="1338.6" width="362" height="34" fill="none" stroke="#888" stroke-width="1.5"/>
<g stroke="#777" stroke-width="1.5">
<line x1="1444" y1="1372.6" x2="1444" y2="1381"/><line x1="1490" y1="1372.6" x2="1490" y2="1381"/>
<line x1="1536" y1="1372.6" x2="1536" y2="1381"/><line x1="1581.6" y1="1372.6" x2="1581.6" y2="1381"/>
<line x1="1627" y1="1372.6" x2="1627" y2="1381"/><line x1="1674" y1="1372.6" x2="1674" y2="1381"/>
<line x1="1720" y1="1372.6" x2="1720" y2="1381"/><line x1="1766" y1="1372.6" x2="1766" y2="1381"/>
</g>
<g class="b" font-size="21" fill="#111" text-anchor="middle">
<text x="1447" y="1402" xml:space="preserve">4 ,</text><text x="1490" y="1402">5</text><text x="1536" y="1402">6</text><text x="1581.6" y="1402">7</text>
<text x="1627" y="1402">8</text><text x="1674" y="1402">9</text><text x="1720" y="1402">10</text><text x="1766" y="1402">11</text>
</g>

<!-- ===== Panel f ===== -->
<text class="b" x="8" y="831" font-size="26">f</text>
<rect x="199.7" y="1371.3" width="81" height="95.5" fill="#c2fdf7"/>
<rect x="199.7" y="1139.6" width="81" height="231.7" fill="#ecd6fb"/>
<rect x="199.7" y="942" width="81" height="197.6" fill="#fafcd6"/>
<rect x="199.7" y="878.5" width="81" height="63.5" fill="#d8f5d6"/>
<rect x="199.7" y="876" width="81" height="2.5" fill="#ff7090"/>
<rect x="321.5" y="1265" width="81" height="201.8" fill="#c2fdf7"/>
<rect x="321.5" y="1137" width="81" height="128" fill="#ecd6fb"/>
<rect x="321.5" y="944" width="81" height="193" fill="#fafcd6"/>
<rect x="321.5" y="877.5" width="81" height="66.5" fill="#d8f5d6"/>
<g stroke="#111" stroke-width="2.5" fill="none">
<line x1="159" y1="875" x2="159" y2="1468"/>
<line x1="157.8" y1="1466.8" x2="431" y2="1466.8"/>
<line x1="144.5" y1="876" x2="159" y2="876"/>
<line x1="144.5" y1="1171.4" x2="159" y2="1171.4"/>
<line x1="144.5" y1="1466.8" x2="159" y2="1466.8"/>
<line x1="239.6" y1="1466.8" x2="239.6" y2="1482.5"/>
<line x1="361.8" y1="1466.8" x2="361.8" y2="1482.5"/>
</g>
<g stroke="#111" stroke-width="2">
<line x1="152" y1="905.5" x2="159" y2="905.5"/><line x1="152" y1="935.1" x2="159" y2="935.1"/>
<line x1="152" y1="964.6" x2="159" y2="964.6"/><line x1="152" y1="994.2" x2="159" y2="994.2"/>
<line x1="152" y1="1023.7" x2="159" y2="1023.7"/><line x1="152" y1="1053.2" x2="159" y2="1053.2"/>
<line x1="152" y1="1082.8" x2="159" y2="1082.8"/><line x1="152" y1="1112.3" x2="159" y2="1112.3"/>
<line x1="152" y1="1141.9" x2="159" y2="1141.9"/><line x1="152" y1="1200.9" x2="159" y2="1200.9"/>
<line x1="152" y1="1230.5" x2="159" y2="1230.5"/><line x1="152" y1="1260" x2="159" y2="1260"/>
<line x1="152" y1="1289.6" x2="159" y2="1289.6"/><line x1="152" y1="1319.1" x2="159" y2="1319.1"/>
<line x1="152" y1="1348.6" x2="159" y2="1348.6"/><line x1="152" y1="1378.2" x2="159" y2="1378.2"/>
<line x1="152" y1="1407.7" x2="159" y2="1407.7"/><line x1="152" y1="1437.3" x2="159" y2="1437.3"/>
</g>
<g class="r" font-size="25" fill="#444" text-anchor="end">
<text x="136" y="885">100</text><text x="136" y="1180.4">50</text><text x="136" y="1475.8">0</text>
</g>
<text class="s" font-size="31" fill="#333" text-anchor="middle" transform="translate(80,1168) rotate(-90)">TE composition in DA regions (%)</text>
<text class="s" font-size="24" fill="#222" transform="translate(163,1568) rotate(-40)">Genome</text>
<text class="s" font-size="24" fill="#222" transform="translate(271,1599) rotate(-40)">CTRLvsFAD</text>
<circle cx="237" cy="1574" r="1" fill="#444"/>
<rect x="429" y="835.5" width="25.7" height="14.5" fill="#b9fdf7"/>
<rect x="429" y="870.5" width="25.7" height="14.5" fill="#ddcff8"/>
<rect x="429" y="906" width="25.7" height="14.5" fill="#fafcd0"/>
<rect x="429" y="941.5" width="25.7" height="14.5" fill="#d6f2cc"/>
<rect x="429" y="977" width="25.7" height="14.5" fill="#ff7090"/>
<g class="s" font-size="20" fill="#222">
<text x="466" y="851">LTR</text><text x="466" y="884.5">SINE</text><text x="466" y="920">LINE</text><text x="466" y="955.8">DNA</text><text x="466" y="991.5">SVA</text>
</g>

<!-- ===== Panel g ===== -->
<text class="b" x="638" y="826" font-size="26">g</text>
<text class="b" x="885" y="861" font-size="27" text-anchor="middle">LTRs composition at DA regions</text>
<path d="M832.7,1039.3 L832.7,879.3 A160,160 0 1 1 690.3,1112.3 Z" fill="#c5aff5"/>
<path d="M832.7,1039.3 L690.3,1112.3 A160,160 0 0 1 678.5,1082.1 Z" fill="#ddffb3"/>
<path d="M832.7,1039.3 L678.5,1082.1 A160,160 0 0 1 773.3,890.7 Z" fill="#aaffea"/>
<path d="M832.7,1039.3 L773.3,890.7 A160,160 0 0 1 819,879.9 Z" fill="#e6b98c"/>
<path d="M832.7,1039.3 L819,879.9 A160,160 0 0 1 832.7,879.3 Z" fill="#ff7865"/>
<rect x="1024.6" y="879.6" width="23.3" height="19.2" fill="#c5aff5"/>
<rect x="1024.6" y="901" width="23.3" height="20" fill="#aaffea"/>
<rect x="1024.6" y="924" width="23.3" height="20" fill="#ddffb3"/>
<rect x="1024.6" y="948.6" width="23.3" height="19.4" fill="#e6b98c"/>
<rect x="1024.6" y="970.8" width="23.3" height="20.6" fill="#ff7865"/>
<g class="s" font-size="23" fill="#111">
<text x="1050.5" y="898">ERVL</text><text x="1050.5" y="919.5">ERV1</text><text x="1050.5" y="943.5">ERVK</text><text x="1050.5" y="966">Gypsy</text><text x="1054" y="990">Other</text>
</g>
<text class="r" x="774" y="1241" font-size="28" fill="#555">Total=491</text>

<!-- ===== Panel h ===== -->
<text class="b" x="640" y="1258" font-size="26">h</text>
<g stroke="#888" stroke-width="1.2">
<line x1="734.3" y1="1281.7" x2="734.3" y2="1465.3"/>
<line x1="729.5" y1="1281.7" x2="734.3" y2="1281.7"/>
<line x1="729.5" y1="1373.5" x2="734.3" y2="1373.5"/>
<line x1="729.5" y1="1465.3" x2="734.3" y2="1465.3"/>
</g>
<g class="s" font-size="13" fill="#555" text-anchor="end">
<text x="728" y="1286.5">2</text><text x="728" y="1378">1</text><text x="728" y="1470">0</text>
</g>
<text class="s" font-size="13" fill="#555" text-anchor="middle" transform="translate(716,1373) rotate(-90)">bits</text>
<g class="b" font-size="100">
<text x="-5" textLength="110" lengthAdjust="spacingAndGlyphs" fill="#0000cc" transform="translate(736,1465.3) scale(0.32,0.026)">C</text>
<text x="-5" textLength="110" lengthAdjust="spacingAndGlyphs" fill="#cc0000" transform="translate(736,1463.5) scale(0.32,0.026)">A</text>
<text x="-5" textLength="110" lengthAdjust="spacingAndGlyphs" fill="#ffb300" transform="translate(736,1461.6) scale(0.32,0.064)">G</text>
<text x="-5" textLength="110" lengthAdjust="spacingAndGlyphs" fill="#0000cc" transform="translate(768.6,1464.4) scale(0.32,0.051)">C</text>
<text x="-5" textLength="110" lengthAdjust="spacingAndGlyphs" fill="#ffb300" transform="translate(768.6,1459.8) scale(0.32,0.166)">G</text>
<text x="-5" textLength="110" lengthAdjust="spacingAndGlyphs" fill="#cc0000" transform="translate(768.6,1446.9) scale(0.32,0.14)">A</text>
<text x="-5" textLength="110" lengthAdjust="spacingAndGlyphs" fill="#cc0000" transform="translate(801.2,1465.3) scale(0.32,0.051)">A</text>
<text x="-5" textLength="110" lengthAdjust="spacingAndGlyphs" fill="#008000" transform="translate(801.2,1461.6) scale(0.32,2.066)">T</text>
<text x="-5" textLength="110" lengthAdjust="spacingAndGlyphs" fill="#008000" transform="translate(833.8,1463.5) scale(0.32,0.051)">T</text>
<text x="-5" textLength="110" lengthAdjust="spacingAndGlyphs" fill="#ffb300" transform="translate(833.8,1458.9) scale(0.32,2.027)">G</text>
<text x="-5" textLength="110" lengthAdjust="spacingAndGlyphs" fill="#ffb300" transform="translate(866.4,1465.3) scale(0.32,0.038)">G</text>
<text x="-5" textLength="110" lengthAdjust="spacingAndGlyphs" fill="#008000" transform="translate(866.4,1462.5) scale(0.32,0.051)">T</text>
<text x="-5" textLength="110" lengthAdjust="spacingAndGlyphs" fill="#cc0000" transform="translate(866.4,1458) scale(0.32,1.963)">A</text>
<text x="-5" textLength="110" lengthAdjust="spacingAndGlyphs" fill="#cc0000" transform="translate(899,1465.3) scale(0.32,0.115)">A</text>
<text x="-5" textLength="110" lengthAdjust="spacingAndGlyphs" fill="#ffb300" transform="translate(899,1456.1) scale(0.32,1.99)">G</text>
<text x="-5" textLength="110" lengthAdjust="spacingAndGlyphs" fill="#ffb300" transform="translate(931.6,1465.3) scale(0.32,0.038)">G</text>
<text x="-5" textLength="110" lengthAdjust="spacingAndGlyphs" fill="#cc0000" transform="translate(931.6,1462.5) scale(0.32,0.026)">A</text>
<text x="-5" textLength="110" lengthAdjust="spacingAndGlyphs" fill="#008000" transform="translate(931.6,1460.7) scale(0.32,2.09)">T</text>
<text x="-5" textLength="110" lengthAdjust="spacingAndGlyphs" fill="#cc0000" transform="translate(964.2,1465.3) scale(0.32,0.038)">A</text>
<text x="-5" textLength="110" lengthAdjust="spacingAndGlyphs" fill="#ffb300" transform="translate(964.2,1462.5) scale(0.32,0.09)">G</text>
<text x="-5" textLength="110" lengthAdjust="spacingAndGlyphs" fill="#0000cc" transform="translate(964.2,1456.1) scale(0.32,1.887)">C</text>
<text x="-5" textLength="110" lengthAdjust="spacingAndGlyphs" fill="#cc0000" transform="translate(996.8,1464.4) scale(0.32,2.41)">A</text>
<text x="-5" textLength="110" lengthAdjust="spacingAndGlyphs" fill="#ffb300" transform="translate(1029.4,1463.5) scale(0.32,0.038)">G</text>
<text x="-5" textLength="110" lengthAdjust="spacingAndGlyphs" fill="#0000cc" transform="translate(1029.4,1459.8) scale(0.32,0.166)">C</text>
<text x="-5" textLength="110" lengthAdjust="spacingAndGlyphs" fill="#008000" transform="translate(1029.4,1446.9) scale(0.32,0.191)">T</text>
<text x="-5" textLength="110" lengthAdjust="spacingAndGlyphs" fill="#ffb300" transform="translate(1062,1465.3) scale(0.32,0.038)">G</text>
<text x="-5" textLength="110" lengthAdjust="spacingAndGlyphs" fill="#008000" transform="translate(1062,1462.5) scale(0.32,0.026)">T</text>
<text x="-5" textLength="110" lengthAdjust="spacingAndGlyphs" fill="#0000cc" transform="translate(1062,1459.8) scale(0.32,0.051)">C</text>
</g>
<g stroke="#999" stroke-width="1.2">
<line x1="746" y1="1455.2" x2="758" y2="1455.2"/><line x1="779" y1="1435.9" x2="791" y2="1435.9"/>
<line x1="811" y1="1312" x2="823" y2="1312"/><line x1="844" y1="1312" x2="856" y2="1312"/>
<line x1="876" y1="1315.7" x2="888" y2="1315.7"/><line x1="909" y1="1312" x2="921" y2="1312"/>
<line x1="942" y1="1309.2" x2="954" y2="1309.2"/><line x1="974" y1="1319.3" x2="986" y2="1319.3"/>
<line x1="1007" y1="1290" x2="1019" y2="1290"/><line x1="1039" y1="1432.3" x2="1051" y2="1432.3"/>
<line x1="1072" y1="1455.2" x2="1084" y2="1455.2"/>
</g>
<g class="s" font-size="11" fill="#555" text-anchor="end">
<text transform="translate(752,1469) rotate(-90)" dy="4">1</text>
<text transform="translate(784.6,1469) rotate(-90)" dy="4">2</text>
<text transform="translate(817.2,1469) rotate(-90)" dy="4">3</text>
<text transform="translate(849.8,1469) rotate(-90)" dy="4">4</text>
<text transform="translate(882.4,1469) rotate(-90)" dy="4">5</text>
<text transform="translate(915,1469) rotate(-90)" dy="4">6</text>
<text transform="translate(947.6,1469) rotate(-90)" dy="4">7</text>
<text transform="translate(980.2,1469) rotate(-90)" dy="4">8</text>
<text transform="translate(1012.8,1469) rotate(-90)" dy="4">9</text>
<text transform="translate(1045.4,1469) rotate(-90)" dy="4">10</text>
<text transform="translate(1078,1469) rotate(-90)" dy="4">11</text>
</g>
<text class="b" x="1058" y="1288" font-size="27">JUN</text>
<text class="b" x="902" y="1519" font-size="27">e-value=1.3e-165</text>
</svg>
</body></html>
